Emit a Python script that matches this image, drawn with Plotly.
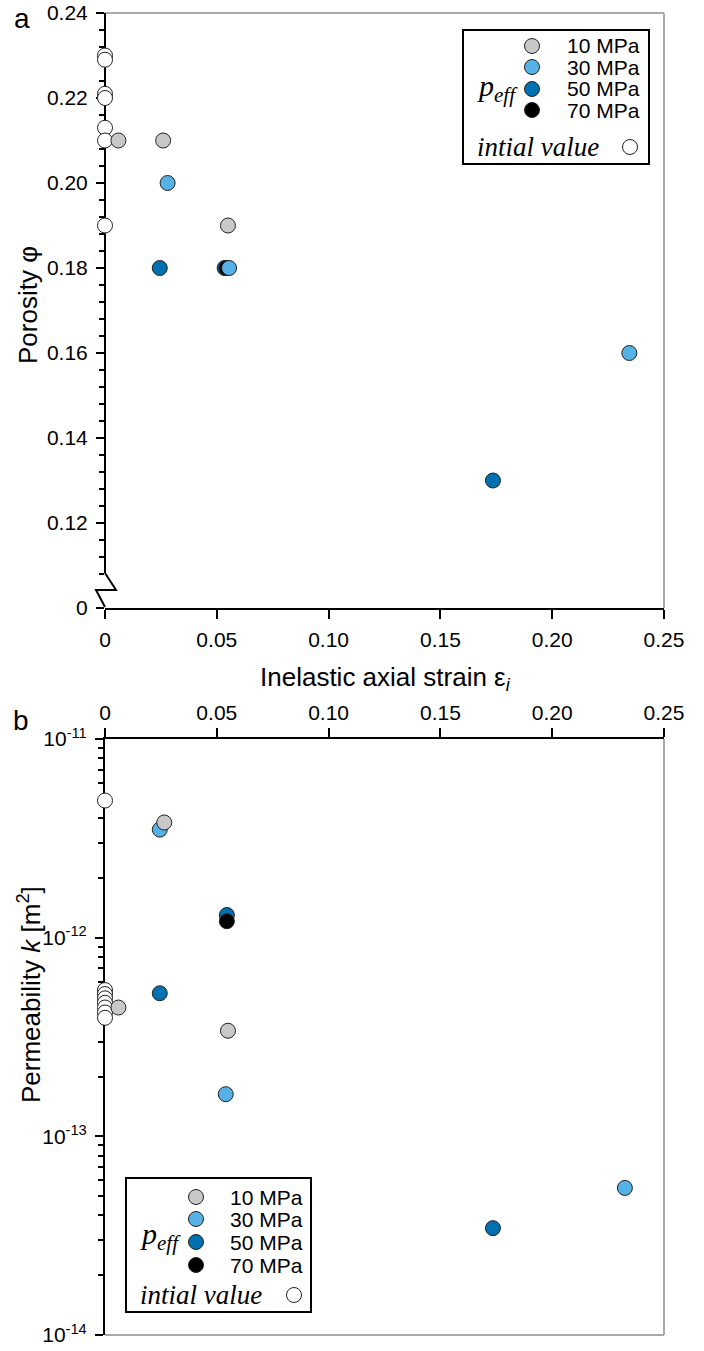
import plotly.graph_objects as go

# ---------------- data ----------------
# panel a: porosity vs inelastic axial strain
strain_init_a = [0, 0, 0, 0, 0, 0, 0]
phi_init = [0.230, 0.229, 0.221, 0.220, 0.213, 0.210, 0.190]
strain_10_a = [0.006, 0.026, 0.055]
phi_10 = [0.210, 0.210, 0.190]
strain_30_a = [0.028, 0.0555, 0.2345]
phi_30 = [0.200, 0.180, 0.160]
strain_50_a = [0.0245, 0.0535, 0.1735]
phi_50 = [0.180, 0.180, 0.130]
strain_70_a = [0.0543]
phi_70 = [0.180]

# panel b: permeability vs inelastic axial strain
strain_init_b = [0, 0, 0, 0, 0, 0, 0, 0]
k_init = [4.9e-12, 5.45e-13, 5.2e-13, 4.95e-13, 4.7e-13, 4.45e-13, 4.2e-13, 3.95e-13]
strain_10_b = [0.0265, 0.006, 0.055]
k_10 = [3.8e-12, 4.45e-13, 3.4e-13]
strain_30_b = [0.0245, 0.054, 0.2325]
k_30 = [3.5e-12, 1.63e-13, 5.5e-14]
strain_50_b = [0.0245, 0.0545, 0.1735]
k_50 = [5.25e-13, 1.3e-12, 3.45e-14]
strain_70_b = [0.0545]
k_70 = [1.21e-12]

x_ticks = [0, 0.05, 0.10, 0.15, 0.20, 0.25]
x_ticktext = ["0", "0.05", "0.10", "0.15", "0.20", "0.25"]
phi_ticks = [0.10, 0.12, 0.14, 0.16, 0.18, 0.20, 0.22, 0.24]
phi_ticktext = ["0", "0.12", "0.14", "0.16", "0.18", "0.20", "0.22", "0.24"]
k_ticks = [1e-14, 1e-13, 1e-12, 1e-11]
k_ticktext = ["10<sup>-14</sup>", "10<sup>-13</sup>", "10<sup>-12</sup>", "10<sup>-11</sup>"]
legend_labels = ["10 MPa", "30 MPa", "50 MPa", "70 MPa"]

# ---------------- style ----------------
W, H = 704, 1351
C10, C30, C50, C70, CINIT = "#c8c8c8", "#56b1e6", "#0071b0", "#000000", "#ffffff"
GRAY = "#a8a8a8"
SANS = "Liberation Sans, Arial, sans-serif"
SERIF = "Liberation Serif, Times New Roman, serif"
MS = 15
TICKSIZE = 21

phi_minor = [round(0.108 + 0.004 * i, 3) for i in range(34)]
phi_minor = [v for v in phi_minor if all(abs(v - t) > 1e-6 for t in phi_ticks)]
k_minor = [m * 10.0 ** e for e in (-14, -13, -12) for m in range(2, 10)]

def px(xp):
    return xp / W

def py(yp):
    return 1 - yp / H

fig = go.Figure()

def add_series(x, y, color, xa, ya):
    fig.add_trace(go.Scatter(
        x=x, y=y, mode="markers", xaxis=xa, yaxis=ya, cliponaxis=False,
        marker=dict(size=MS, color=color, line=dict(color="#222222", width=1)),
        showlegend=False, hoverinfo="x+y"))

for xa, ya, data in [
    ("x", "y", [(strain_init_a, phi_init, CINIT), (strain_50_a, phi_50, C50),
                (strain_70_a, phi_70, C70), (strain_30_a, phi_30, C30),
                (strain_10_a, phi_10, C10)]),
    ("x2", "y2", [(strain_init_b, k_init, CINIT), (strain_50_b, k_50, C50),
                  (strain_70_b, k_70, C70), (strain_30_b, k_30, C30),
                  (strain_10_b, k_10, C10)]),
]:
    for x, y, c in data:
        add_series(x, y, c, xa, ya)

axis_common = dict(showgrid=False, zeroline=False, ticks="outside", tickwidth=2,
                   tickcolor="black", layer="below traces", automargin=False,
                   tickfont=dict(family=SANS, size=TICKSIZE, color="black"))

fig.update_layout(
    width=W, height=H, margin=dict(l=0, r=0, t=0, b=0, pad=0, autoexpand=False),
    paper_bgcolor="white", plot_bgcolor="white", showlegend=False,
    font=dict(family=SANS, size=20, color="black"),
    xaxis=dict(domain=[px(105), px(664)], range=[0, 0.25], anchor="y",
               showline=True, linecolor="black", linewidth=2, ticklen=9,
               tickvals=x_ticks, ticktext=x_ticktext, ticklabelstandoff=3,
               **axis_common),
    yaxis=dict(domain=[py(608), py(13)], range=[0.10, 0.24], anchor="x",
               showline=False, ticklen=8, tickvals=phi_ticks, ticktext=phi_ticktext,
               ticklabelstandoff=4,
               minor=dict(tickvals=phi_minor, ticks="outside", ticklen=5,
                          tickwidth=2, tickcolor="black"),
               **axis_common),
    xaxis2=dict(domain=[px(105), px(664)], range=[0, 0.25], anchor="y2", side="top",
                showline=True, linecolor="black", linewidth=2, ticklen=9,
                tickvals=x_ticks, ticktext=x_ticktext, ticklabelstandoff=0,
                **axis_common),
    yaxis2=dict(domain=[py(1335), py(739)], type="log", range=[-14, -11], anchor="x2",
                showline=True, linecolor="black", linewidth=2, ticklen=8,
                tickvals=k_ticks, ticktext=k_ticktext, ticklabelstandoff=4,
                minor=dict(tickvals=k_minor, ticks="outside", ticklen=5,
                           tickwidth=2, tickcolor="black"),
                **axis_common),
)

shapes = []
# grey frame lines
shapes += [
    dict(type="line", xref="x domain", yref="y domain", x0=0, x1=1, y0=1, y1=1,
         line=dict(color=GRAY, width=2), layer="below"),
    dict(type="line", xref="x domain", yref="y domain", x0=1, x1=1, y0=0, y1=1,
         line=dict(color=GRAY, width=2), layer="below"),
    dict(type="line", xref="x2 domain", yref="y2 domain", x0=0, x1=1, y0=0, y1=0,
         line=dict(color=GRAY, width=2), layer="below"),
    dict(type="line", xref="x2 domain", yref="y2 domain", x0=1, x1=1, y0=0, y1=1,
         line=dict(color=GRAY, width=2), layer="below"),
]
# broken y axis of panel a (paper coordinates so nothing is clipped)
shapes += [
    dict(type="line", xref="paper", yref="paper", x0=px(105), x1=px(105),
         y0=py(573), y1=py(13), line=dict(color="black", width=2), layer="below"),
    dict(type="path", xref="paper", yref="paper",
         path=(f"M {px(105)},{py(573)} L {px(116)},{py(590)} "
               f"L {px(96)},{py(590)} L {px(105)},{py(607)}"),
         line=dict(color="black", width=2), layer="below"),
]

annotations = []

def legend(box, marker_x, text_x, rows_y, init_y, init_marker_x, peff_x, peff_y, init_text_x):
    x0, y0, x1, y1 = box
    shapes.append(dict(type="rect", xref="paper", yref="paper",
                       x0=px(x0), x1=px(x1), y0=py(y1), y1=py(y0),
                       line=dict(color="black", width=2), fillcolor="white", layer="above"))
    r = MS / 2
    for lab, c, yy in zip(legend_labels, [C10, C30, C50, C70], rows_y):
        shapes.append(dict(type="circle", xref="paper", yref="paper",
                           x0=px(marker_x - r), x1=px(marker_x + r),
                           y0=py(yy + r), y1=py(yy - r), fillcolor=c,
                           line=dict(color="#222222", width=1), layer="above"))
        annotations.append(dict(x=px(text_x), y=py(yy), xref="paper", yref="paper",
                                text=lab, showarrow=False, xanchor="left", yanchor="middle",
                                font=dict(family=SANS, size=21, color="black")))
    shapes.append(dict(type="circle", xref="paper", yref="paper",
                       x0=px(init_marker_x - r), x1=px(init_marker_x + r),
                       y0=py(init_y + r), y1=py(init_y - r), fillcolor=CINIT,
                       line=dict(color="#222222", width=1), layer="above"))
    annotations.append(dict(x=px(init_text_x), y=py(init_y), xref="paper", yref="paper",
                            text="<i>intial value</i>", showarrow=False,
                            xanchor="left", yanchor="middle",
                            font=dict(family=SERIF, size=27, color="black")))
    annotations.append(dict(x=px(peff_x), y=py(peff_y), xref="paper", yref="paper",
                            text="<i>p<sub>eff</sub></i>", showarrow=False,
                            xanchor="left", yanchor="middle",
                            font=dict(family=SERIF, size=30, color="black")))

legend((463, 30, 649, 164), 532, 565, [46, 67, 89, 110], 147, 630, 475, 88, 475)
legend((126, 1178, 311, 1312), 196, 228, [1197, 1219, 1242, 1265], 1295, 294, 138, 1236, 138)

# titles and panel letters
annotations += [
    dict(x=px(385), y=py(678), xref="paper", yref="paper", showarrow=False,
         text="Inelastic axial strain ε<sub><i>i</i></sub>", xanchor="center", yanchor="middle",
         font=dict(family=SANS, size=26, color="black")),
    dict(x=px(28), y=py(305), xref="paper", yref="paper", showarrow=False, textangle=-90,
         text="Porosity φ", xanchor="center", yanchor="middle",
         font=dict(family=SANS, size=26, color="black")),
    dict(x=px(29), y=py(995), xref="paper", yref="paper", showarrow=False, textangle=-90,
         text="Permeability <i>k</i> [m<sup>2</sup>]", xanchor="center", yanchor="middle",
         font=dict(family=SANS, size=26, color="black")),
    dict(x=px(22), y=py(18), xref="paper", yref="paper", showarrow=False,
         text="a", xanchor="center", yanchor="middle",
         font=dict(family=SANS, size=28, color="black")),
    dict(x=px(21), y=py(720), xref="paper", yref="paper", showarrow=False,
         text="b", xanchor="center", yanchor="middle",
         font=dict(family=SANS, size=28, color="black")),
]

fig.update_layout(shapes=shapes, annotations=annotations)
fig.write_html("out.html", config={"displayModeBar": False},
               post_script="document.body.style.margin='0px';document.body.style.overflow='hidden';")
